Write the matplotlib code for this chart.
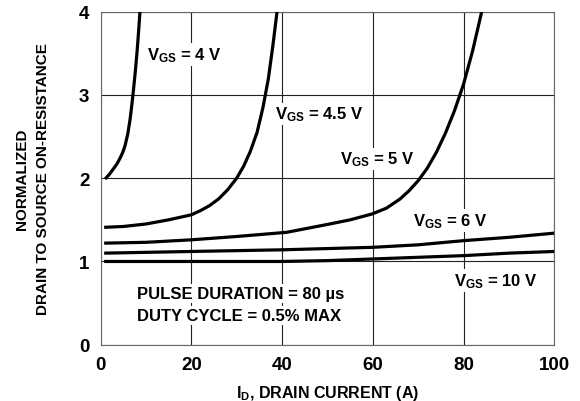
import matplotlib
matplotlib.use("Agg")
import matplotlib.pyplot as plt

plt.rcParams['font.family'] = ['Liberation Sans', 'DejaVu Sans']
plt.rcParams['font.weight'] = 'bold'
plt.rcParams['mathtext.fontset'] = 'custom'
plt.rcParams['mathtext.rm'] = 'Liberation Sans:bold'
plt.rcParams['mathtext.it'] = 'Liberation Sans:bold'
plt.rcParams['mathtext.bf'] = 'Liberation Sans:bold'

# Data
id_4 = [1.0, 2.0, 2.8, 3.6, 4.3, 4.9, 5.4, 6.0, 6.5, 6.9, 7.3, 7.7, 8.1, 8.4, 8.7]
r_4 = [1.99, 2.05, 2.11, 2.17, 2.24, 2.31, 2.39, 2.53, 2.7, 2.88, 3.08, 3.3, 3.55, 3.77, 4.0]

id_45 = [0.8, 5, 10, 15, 20, 22, 24, 26, 28, 30, 31.5, 33, 34.5, 35.8, 37, 38, 38.9]
r_45 = [1.41, 1.42, 1.45, 1.50, 1.56, 1.61, 1.67, 1.75, 1.86, 2.0, 2.14, 2.32, 2.55, 2.85, 3.2, 3.6, 4.0]

id_5 = [0.8, 10, 20, 30, 41, 50.5, 55, 59.8, 63, 66, 68, 70, 72, 74, 76, 78, 80, 82, 84]
r_5 = [1.22, 1.23, 1.26, 1.30, 1.35, 1.45, 1.50, 1.57, 1.64, 1.75, 1.85, 1.97, 2.12, 2.31, 2.54, 2.81, 3.13, 3.53, 4.0]

id_6 = [0.8, 20, 40, 60, 70, 80, 90, 100]
r_6 = [1.10, 1.12, 1.14, 1.17, 1.20, 1.25, 1.29, 1.34]

id_10 = [0.8, 20, 40, 50, 60, 70, 80, 90, 100]
r_10 = [1.00, 1.00, 1.00, 1.01, 1.03, 1.05, 1.07, 1.10, 1.12]

x_ticks = [0, 20, 40, 60, 80, 100]
y_ticks = [0, 1, 2, 3, 4]

fig = plt.figure(figsize=(5.8, 4.02), dpi=100)
ax = fig.add_axes([0.1733, 0.140, 0.7824, 0.8284])

for xs, ys in [(id_4, r_4), (id_45, r_45), (id_5, r_5), (id_6, r_6), (id_10, r_10)]:
    ax.plot(xs, ys, color='black', lw=2.3, solid_capstyle='butt',
            solid_joinstyle='round', zorder=3)

ax.set_xlim(0, 100)
ax.set_ylim(0, 4)
ax.set_xticks(x_ticks)
ax.set_yticks(y_ticks)
ax.tick_params(length=0, labelsize=13.5, pad=8)
for lbl in ax.get_xticklabels() + ax.get_yticklabels():
    lbl.set_fontweight('bold')
ax.grid(True, color='#222222', lw=0.8, zorder=1)
ax.set_axisbelow(True)
for s in ax.spines.values():
    s.set_color('#666666')
    s.set_linewidth(0.8)

ax.set_xlabel('I$_{\\mathrm{D}}$, DRAIN CURRENT (A)', fontsize=11.5, fontweight='bold', labelpad=7)
ax.set_ylabel('NORMALIZED\nDRAIN TO SOURCE ON-RESISTANCE', fontsize=11, fontweight='bold',
              labelpad=21, linespacing=1.6)

box = dict(facecolor='white', edgecolor='none', pad=1.5)
fs = 12
ax.text(10.2, 3.49, 'V$_{\\mathrm{GS}}$ = 4 V', fontsize=fs, fontweight='bold', va='center', ha='left', bbox=box, zorder=4)
ax.text(38.4, 2.77, 'V$_{\\mathrm{GS}}$ = 4.5 V', fontsize=fs, fontweight='bold', va='center', ha='left', bbox=box, zorder=4)
ax.text(52.7, 2.23, 'V$_{\\mathrm{GS}}$ = 5 V', fontsize=fs, fontweight='bold', va='center', ha='left', bbox=box, zorder=4)
ax.text(68.9, 1.49, 'V$_{\\mathrm{GS}}$ = 6 V', fontsize=fs, fontweight='bold', va='center', ha='left', bbox=box, zorder=4)
ax.text(78.0, 0.77, 'V$_{\\mathrm{GS}}$ = 10 V', fontsize=fs, fontweight='bold', va='center', ha='left', bbox=box, zorder=4)
ax.text(8.1, 0.61, 'PULSE DURATION = 80 \u00b5s', fontsize=fs, fontweight='bold', va='center', ha='left', bbox=box, zorder=4)
ax.text(8.1, 0.35, 'DUTY CYCLE = 0.5% MAX', fontsize=fs, fontweight='bold', va='center', ha='left', bbox=box, zorder=4)

fig.savefig('out.png', dpi=100)
